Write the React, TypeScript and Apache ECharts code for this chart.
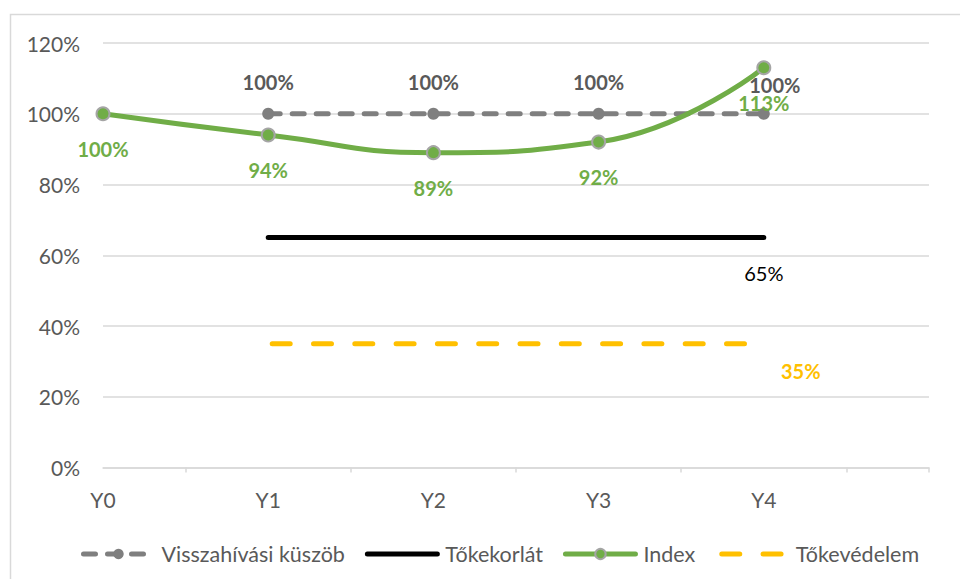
import React, { useEffect, useRef } from "react";
import * as echarts from "echarts";

const categories = ["Y0", "Y1", "Y2", "Y3", "Y4", ""];
const visszahivasi: (number | null)[] = [null, 1, 1, 1, 1, null];
const tokekorlat: (number | null)[] = [null, 0.65, 0.65, 0.65, 0.65, null];
const indexValues: (number | null)[] = [1, 0.94, 0.89, 0.92, 1.13, null];
const tokevedelem: (number | null)[] = [null, 0.35, 0.35, 0.35, 0.35, null];
const seriesNames = ["Visszahívási küszöb", "Tőkekorlát", "Index", "Tőkevédelem"];
const yTicks = { min: 0, max: 1.2, interval: 0.2 };

const FONT = "Lato, 'Open Sans', sans-serif";
const pct = (v: number) => Math.round(v * 100) + "%";

function toData(
  values: (number | null)[],
  labelFor: (i: number) => any
) {
  return values.map((v, i) =>
    v === null ? "-" : { value: v, label: labelFor(i) }
  );
}

export default function App() {
  const ref = useRef<HTMLDivElement>(null);
  useEffect(() => {
    document.body.style.margin = "0";
    if (!ref.current) return;
    const chart = echarts.init(ref.current, undefined, { renderer: "svg" });
    const lastIdx = 4;
    const option: any = {
      animation: false,
      backgroundColor: "#ffffff",
      textStyle: { fontFamily: FONT },
      graphic: [
        {
          type: "rect",
          shape: { x: 10.5, y: 14.5, width: 1000, height: 700 },
          style: { fill: "none", stroke: "#d9d9d9", lineWidth: 1.5 },
          silent: true,
          z: -1,
        },
      ],
      grid: { left: 103, right: 31, top: 43, bottom: 111.5, containLabel: false },
      legend: {
        left: 76,
        top: 538,
        itemWidth: 70,
        itemHeight: 13,
        itemGap: 20,
        data: seriesNames,
        lineStyle: { width: 5, cap: "round" },
        textStyle: {
          fontFamily: FONT,
          fontSize: 21.5,
          color: "#595959",
          padding: [0, 0, 0, 3],
        },
      },
      xAxis: [
        {
          type: "category",
          data: categories,
          boundaryGap: false,
          axisLine: { lineStyle: { color: "#d9d9d9", width: 1.5 } },
          axisTick: { show: false },
          axisLabel: {
            color: "#595959",
            fontFamily: FONT,
            fontSize: 21,
            margin: 21,
          },
          splitLine: { show: false },
        },
        {
          type: "value",
          position: "bottom",
          min: 0,
          max: 5,
          axisLine: { show: false },
          axisLabel: { show: false },
          splitLine: { show: false },
          axisTick: {
            show: true,
            length: 5,
            customValues: [0.5, 1.5, 2.5, 3.5, 4.5, 5],
            lineStyle: { color: "#d9d9d9", width: 1.5 },
          },
        },
      ],
      yAxis: {
        type: "value",
        min: yTicks.min,
        max: yTicks.max,
        interval: yTicks.interval,
        axisLine: { show: false },
        axisTick: { show: false },
        axisLabel: {
          formatter: (v: number) => pct(v),
          color: "#595959",
          fontFamily: FONT,
          fontSize: 21,
          margin: 23,
        },
        splitLine: { lineStyle: { color: "#d9d9d9", width: 1.5 } },
      },
      series: [
        {
          name: seriesNames[0],
          type: "line",
          xAxisIndex: 0,
          data: toData(visszahivasi, (i) => ({
            show: true,
            position: "inside",
            offset: i === lastIdx ? [11, -29] : [0, -32],
          })),
          symbol: "circle",
          symbolSize: 12,
          itemStyle: { color: "#7f7f7f" },
          lineStyle: {
            color: "#7f7f7f",
            width: 5,
            type: [12, 12],
            cap: "round",
          },
          label: {
            formatter: (p: any) => pct(p.value),
            color: "#595959",
            fontFamily: FONT,
            fontWeight: "bold",
            fontSize: 20,
          },
          z: 3,
        },
        {
          name: seriesNames[1],
          type: "line",
          xAxisIndex: 0,
          data: toData(tokekorlat, (i) => ({
            show: i === lastIdx,
            position: "inside",
            offset: [0, 35],
          })),
          symbol: "circle",
          symbolSize: 1,
          itemStyle: { color: "rgba(0,0,0,0)" },
          lineStyle: { color: "#000000", width: 5, cap: "round" },
          label: {
            formatter: (p: any) => pct(p.value),
            color: "#000000",
            fontFamily: FONT,
            fontSize: 20,
          },
          z: 2,
        },
        {
          name: seriesNames[2],
          type: "line",
          xAxisIndex: 0,
          smooth: 0.5,
          data: toData(indexValues, () => ({
            show: true,
            position: "inside",
            offset: [0, 35],
          })),
          symbol: "circle",
          symbolSize: 13,
          itemStyle: { color: "#70ad47", borderColor: "#a5a5a5", borderWidth: 2 },
          lineStyle: { color: "#70ad47", width: 5, cap: "round" },
          label: {
            formatter: (p: any) => pct(p.value),
            color: "#70ad47",
            fontFamily: FONT,
            fontWeight: "bold",
            fontSize: 20,
          },
          z: 4,
        },
        {
          name: seriesNames[3],
          type: "line",
          xAxisIndex: 0,
          data: toData(tokevedelem, (i) => ({
            show: i === lastIdx,
            position: "inside",
            offset: [37, 27],
          })),
          symbol: "circle",
          symbolSize: 1,
          itemStyle: { color: "rgba(0,0,0,0)" },
          lineStyle: {
            color: "#ffc000",
            width: 5,
            type: [18, 23.3],
            dashOffset: -4,
            cap: "round",
          },
          label: {
            formatter: (p: any) => pct(p.value),
            color: "#ffc000",
            fontFamily: FONT,
            fontWeight: "bold",
            fontSize: 20,
          },
          z: 2,
        },
      ],
    };
    chart.setOption(option);
    return () => chart.dispose();
  }, []);
  return <div ref={ref} style={{ width: 960, height: 579 }} />;
}
